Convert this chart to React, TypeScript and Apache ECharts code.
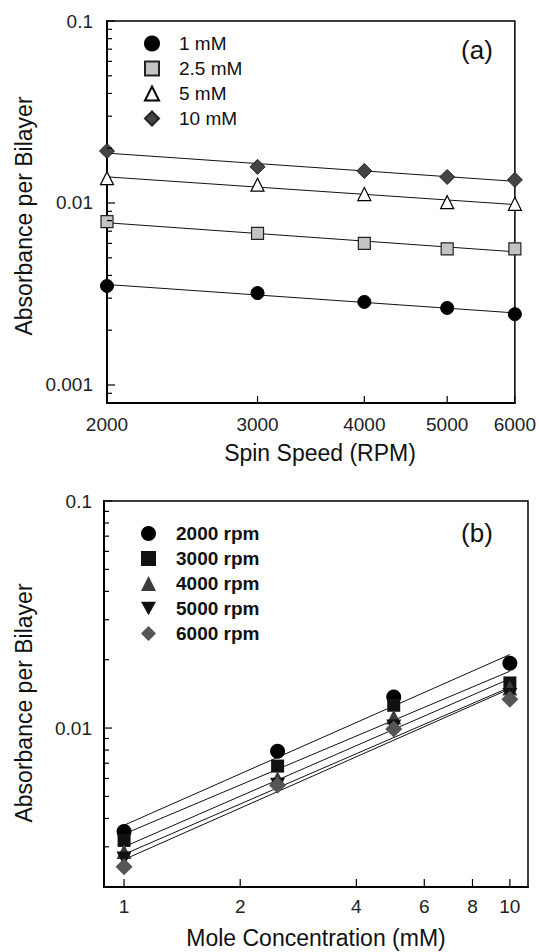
import React, { useEffect, useRef } from 'react';
import * as echarts from 'echarts';

// ---- data ----
const rpmValues = [2000, 3000, 4000, 5000, 6000];
const concValues = [1, 2.5, 5, 10];
const concNames = ['1 mM', '2.5 mM', '5 mM', '10 mM'];
const rpmNames = ['2000 rpm', '3000 rpm', '4000 rpm', '5000 rpm', '6000 rpm'];

// absorbance per bilayer for each concentration, over rpmValues
const abs1mM = [0.0035, 0.0032, 0.00286, 0.00265, 0.00245];
const abs2p5mM = [0.0079, 0.0068, 0.006, 0.0056, 0.0056];
const abs5mM = [0.0137, 0.0126, 0.0112, 0.0101, 0.0099];
const abs10mM = [0.0193, 0.0158, 0.015, 0.0139, 0.0134];

// tick labels
const xTicksA = [2000, 3000, 4000, 5000, 6000];
const yTicksA = [0.001, 0.01, 0.1];
const xTicksB = [1, 2, 4, 6, 8, 10];
const yTicksB = [0.01, 0.1];

const FONT = '"Liberation Sans", Arial, Helvetica, sans-serif';
const lg = (v: number) => Math.log10(v);

function fit(xs: number[], ys: number[], x0: number, x1: number) {
  const lx = xs.map(lg);
  const ly = ys.map(lg);
  const n = lx.length;
  const mx = lx.reduce((a, b) => a + b, 0) / n;
  const my = ly.reduce((a, b) => a + b, 0) / n;
  let sxy = 0, sxx = 0;
  for (let i = 0; i < n; i++) {
    sxy += (lx[i] - mx) * (ly[i] - my);
    sxx += (lx[i] - mx) * (lx[i] - mx);
  }
  const slope = sxy / sxx;
  const b = my - slope * mx;
  return [[lg(x0), b + slope * lg(x0)], [lg(x1), b + slope * lg(x1)]];
}

function minorTicks(decades: number[]) {
  const out: number[] = [];
  decades.forEach((d) => {
    for (let m = 2; m <= 9; m++) out.push(lg(m * Math.pow(10, d)));
  });
  return out;
}

function fmt(ticks: number[]) {
  return (v: number) => {
    const t = ticks.find((t) => Math.abs(lg(t) - v) < 1e-6);
    return t === undefined ? '' : String(t);
  };
}

// tick marks drawn through the axes' own scales (custom series)
function tickSeries(xIdx: number, yIdx: number, dir: 'x' | 'y', vals: number[], len: number,
  xr: number[], yr: number[]) {
  const lo = dir === 'x' ? xr[0] : yr[0];
  const hi = dir === 'x' ? xr[1] : yr[1];
  const inRange = vals.filter((v) => v >= lo - 1e-9 && v <= hi + 1e-9);
  return {
    type: 'custom', xAxisIndex: xIdx, yAxisIndex: yIdx, silent: true, z: 4, clip: false,
    encode: { x: 0, y: 1 },
    data: inRange.map((v) => (dir === 'x' ? [v, yr[0]] : [xr[0], v])),
    renderItem: (params: any, api: any) => {
      const p = api.coord([api.value(0), api.value(1)]);
      const shape = dir === 'x'
        ? { x1: p[0], y1: p[1], x2: p[0], y2: p[1] - len }
        : { x1: p[0], y1: p[1], x2: p[0] + len, y2: p[1] };
      return { type: 'line', shape, style: { stroke: '#000', lineWidth: 1.2 } };
    },
  };
}

export default function App() {
  const ref = useRef<HTMLDivElement>(null);
  useEffect(() => {
    if (!ref.current) return;
    const chart = echarts.init(ref.current, undefined, { renderer: 'svg' });

    const concData = [abs1mM, abs2p5mM, abs5mM, abs10mM];
    const styleA = [
      { symbol: 'circle', symbolSize: 13, itemStyle: { color: '#000', borderColor: '#000', borderWidth: 1, opacity: 1 } },
      { symbol: 'rect', symbolSize: 12, itemStyle: { color: '#c4c4c4', borderColor: '#222', borderWidth: 1.2, opacity: 1 } },
      { symbol: 'triangle', symbolSize: 13, itemStyle: { color: '#fff', borderColor: '#000', borderWidth: 1.2, opacity: 1 } },
      { symbol: 'diamond', symbolSize: 15, itemStyle: { color: '#444', borderColor: '#222', borderWidth: 1, opacity: 1 } },
    ];
    const downTri = 'path://M0,0 L10,0 L5,9 Z';
    const styleB = [
      { symbol: 'circle', symbolSize: 15, itemStyle: { color: '#000', opacity: 1 } },
      { symbol: 'rect', symbolSize: 13, itemStyle: { color: '#111', opacity: 1 } },
      { symbol: 'triangle', symbolSize: 15, itemStyle: { color: '#3c3c3c', opacity: 1 } },
      { symbol: downTri, symbolSize: 15, itemStyle: { color: '#111', opacity: 1 } },
      { symbol: 'diamond', symbolSize: 17, itemStyle: { color: '#555', opacity: 1 } },
    ];

    const xrA = [lg(2000), lg(6000)];
    const yrA = [-3.099, -1];
    const xrB = [-0.052, 1.047];
    const yrB = [-2.7, -1];

    const series: any[] = [];
    // panel (a)
    concData.forEach((ys, i) => {
      series.push({
        type: 'line', xAxisIndex: 0, yAxisIndex: 0, name: 'fitA' + i,
        data: fit(rpmValues, ys, rpmValues[0], rpmValues[rpmValues.length - 1]),
        showSymbol: false, silent: true, z: 1,
        lineStyle: { color: '#111', width: 1 },
      });
    });
    concData.forEach((ys, i) => {
      series.push({
        type: 'scatter', xAxisIndex: 0, yAxisIndex: 0, name: concNames[i],
        data: rpmValues.map((x, j) => [lg(x), lg(ys[j])]),
        z: 3, ...styleA[i],
      });
    });
    // panel (b): same measurements by spin speed
    rpmValues.forEach((rpm, r) => {
      const ys = concData.map((arr) => arr[r]);
      series.push({
        type: 'line', xAxisIndex: 1, yAxisIndex: 1, name: 'fitB' + r,
        data: fit(concValues, ys, concValues[0], concValues[concValues.length - 1]),
        showSymbol: false, silent: true, z: 1,
        lineStyle: { color: '#111', width: 1 },
      });
    });
    rpmValues.forEach((rpm, r) => {
      const ys = concData.map((arr) => arr[r]);
      series.push({
        type: 'scatter', xAxisIndex: 1, yAxisIndex: 1, name: rpmNames[r],
        data: concValues.map((x, j) => [lg(x), lg(ys[j])]),
        z: 3, ...styleB[r],
      });
    });
    // tick marks
    series.push(tickSeries(0, 0, 'x', xTicksA.map(lg), 7, xrA, yrA));
    series.push(tickSeries(0, 0, 'y', yTicksA.map(lg), 8, xrA, yrA));
    series.push(tickSeries(0, 0, 'y', minorTicks([-4, -3, -2]), 5, xrA, yrA));
    series.push(tickSeries(1, 1, 'x', xTicksB.map(lg), 8, xrB, yrB));
    series.push(tickSeries(1, 1, 'y', yTicksB.map(lg), 8, xrB, yrB));
    series.push(tickSeries(1, 1, 'y', minorTicks([-3, -2]), 5, xrB, yrB));

    const axisLine = { show: true, onZero: false, lineStyle: { color: '#000', width: 2 } };
    const label = (ticks: number[], margin: number) => ({
      customValues: ticks.map(lg), formatter: fmt(ticks), margin,
      fontSize: 19, color: '#222', fontFamily: FONT,
    });

    chart.setOption({
      animation: false,
      backgroundColor: '#fff',
      grid: [
        { left: 107, top: 21, width: 408, height: 382, show: true, borderColor: '#000', borderWidth: 1.5 },
        { left: 104, top: 501, width: 424, height: 386, show: true, borderColor: '#000', borderWidth: 1.5 },
      ],
      xAxis: [
        {
          type: 'value', gridIndex: 0, min: xrA[0], max: xrA[1],
          axisLine, splitLine: { show: false }, axisTick: { show: false },
          axisLabel: label(xTicksA, 12),
        },
        {
          type: 'value', gridIndex: 1, min: xrB[0], max: xrB[1],
          axisLine, splitLine: { show: false }, axisTick: { show: false },
          axisLabel: label(xTicksB, 10),
        },
      ],
      yAxis: [
        {
          type: 'value', gridIndex: 0, min: yrA[0], max: yrA[1], position: 'left',
          axisLine, splitLine: { show: false }, axisTick: { show: false },
          axisLabel: label(yTicksA, 14),
        },
        {
          type: 'value', gridIndex: 1, min: yrB[0], max: yrB[1], position: 'left',
          axisLine, splitLine: { show: false }, axisTick: { show: false },
          axisLabel: label(yTicksB, 12),
        },
      ],
      legend: [
        {
          orient: 'vertical', left: 139, top: 29, itemWidth: 14, itemHeight: 14, itemGap: 6,
          data: concNames, selectedMode: false,
          textStyle: { fontSize: 19, color: '#111', fontFamily: FONT, padding: [0, 0, 0, 15] },
        },
        {
          orient: 'vertical', left: 136, top: 519, itemWidth: 15, itemHeight: 15, itemGap: 6,
          data: rpmNames, selectedMode: false,
          textStyle: { fontSize: 19, fontWeight: 'bold', color: '#111', fontFamily: FONT, padding: [0, 0, 0, 15] },
        },
      ],
      graphic: [
        { type: 'text', x: 24, y: 216, rotation: Math.PI / 2, style: { text: 'Absorbance per Bilayer', font: `23px ${FONT}`, fill: '#111', align: 'center', verticalAlign: 'middle' } },
        { type: 'text', x: 320, y: 453, style: { text: 'Spin Speed (RPM)', font: `23px ${FONT}`, fill: '#111', align: 'center', verticalAlign: 'middle' } },
        { type: 'text', x: 477, y: 50, style: { text: '(a)', font: `26px ${FONT}`, fill: '#111', align: 'center', verticalAlign: 'middle' } },
        { type: 'text', x: 24, y: 703, rotation: Math.PI / 2, style: { text: 'Absorbance per Bilayer', font: `23px ${FONT}`, fill: '#111', align: 'center', verticalAlign: 'middle' } },
        { type: 'text', x: 316, y: 938, style: { text: 'Mole Concentration (mM)', font: `23px ${FONT}`, fill: '#111', align: 'center', verticalAlign: 'middle' } },
        { type: 'text', x: 477, y: 533, style: { text: '(b)', font: `26px ${FONT}`, fill: '#111', align: 'center', verticalAlign: 'middle' } },
      ],
      series,
    });
    return () => chart.dispose();
  }, []);
  return <div ref={ref} style={{ position: 'fixed', left: 0, top: 0, width: 539, height: 952 }} />;
}
